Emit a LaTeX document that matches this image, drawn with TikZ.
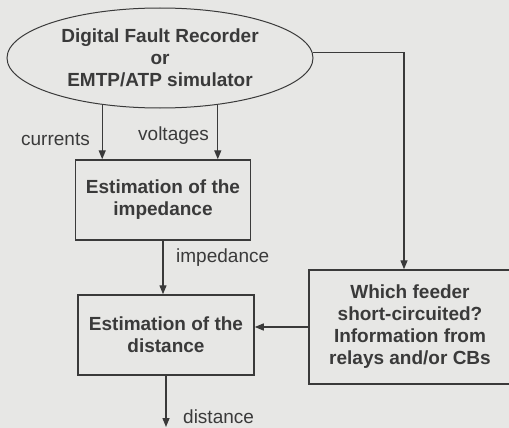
\documentclass[tikz,border=0pt]{standalone}
\usepackage{fontspec}
\setmainfont{Liberation Sans}
\usetikzlibrary{arrows.meta,shapes.geometric}
\definecolor{bg}{RGB}{231,231,229}
\definecolor{ink}{RGB}{58,58,58}
\begin{document}
\begin{tikzpicture}[x=1pt,y=-1pt,
  every node/.style={text=ink, font=\fontsize{19}{22}\selectfont},
  blk/.style={draw=ink, line width=1.5pt, align=center, inner sep=0pt,
    font=\bfseries\fontsize{19}{22}\selectfont},
  lbl/.style={inner sep=0pt, anchor=base west},
  arr/.style={draw=ink, line width=1.4pt, -{Triangle[length=9pt,width=7pt]}}]
\useasboundingbox[fill=bg] (0,0) rectangle (509,428);
\clip (0,0) rectangle (509,428);
\node[blk, ellipse, line width=1pt, minimum width=306pt, minimum height=100pt] (ell) at (160,58)
  {Digital Fault Recorder\\or\\EMTP/ATP simulator};
\node[blk, rectangle, minimum width=175pt, minimum height=80pt] (imp) at (163,200)
  {Estimation of the\\impedance};
\node[blk, rectangle, minimum width=176pt, minimum height=80pt] (dist) at (166,335)
  {Estimation of the\\distance};
\node[blk, rectangle, minimum width=202pt, minimum height=114pt] (rbox) at (410,327)
  {Which feeder\\short-circuited?\\Information from\\relays and/or CBs};
\coordinate (dend) at (168,427);
\draw[arr] (ell.219) -- (ell.219 |- imp.north);
\draw[arr] (ell.321) -- (ell.321 |- imp.north);
\draw[arr] (imp.south) -- (imp.south |- dist.north);
\draw[arr] (ell.2) -| ([xshift=-6pt]rbox.north);
\draw[arr] (rbox.west) -- (rbox.west -| dist.east);
\draw[arr] (dist.south) -- (dist.south |- dend);
\node[lbl, anchor=base east] (lc) at (90,146) {currents};
\node[lbl] (lv) at (138,140) {voltages};
\node[lbl] (li) at (176,262) {impedance};
\node[lbl] (ld) at (183,423) {distance};
\end{tikzpicture}
\end{document}
